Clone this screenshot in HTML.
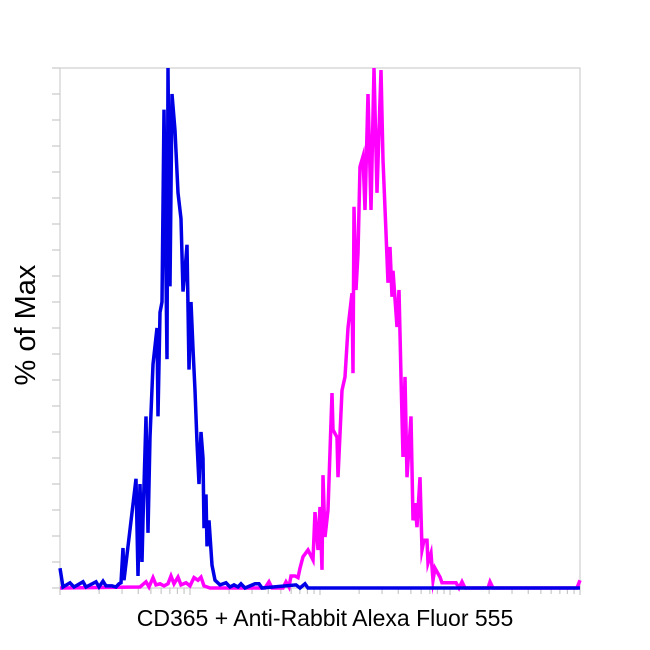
<!DOCTYPE html>
<html><head><meta charset="utf-8"><style>
html,body{margin:0;padding:0;background:#fff;}
svg{display:block;font-family:"Liberation Sans",Arial,sans-serif;}
</style></head><body>
<svg id="chart" width="650" height="650" viewBox="0 0 650 650">
<rect x="0" y="0" width="650" height="650" fill="#fff"/>
<g id="grid"></g>
<g id="series"></g>
<text x="325" y="626" text-anchor="middle" font-size="23" fill="#000">CD365 + Anti-Rabbit Alexa Fluor 555</text>
<text transform="translate(35,325) rotate(-90)" text-anchor="middle" font-size="29" fill="#000">% of Max</text>
</svg>
<script>
// channel (0..520 across plot) and % of max
const blueX = [0,3,10,14,23,26,36,39,43,46,50,52,56,59,61,63,64,76,78,80,82,83,86,88,90,93,97,98,100,102,104,107,108,110,112,115,118,121,123,125,127,129,131,133,135,137,139,141,143,144,146,147,149,152,155,160,166,170,174,178,181,185,195,199,202,236,240,245,248,520];
const blueY = [3.8,0.2,1,0.2,1.2,0.2,1.2,0.2,1.3,0.4,0.4,0.4,0.2,0.8,1,7.7,1.5,21,2.3,20,5,13,33,10.6,29,43,50,33,53,55,92,44,100,58,95,88,76,71,57,61,66,42,55,46,38,28,20,30,25,11.5,18,8,13,4.4,1.5,0.6,1,0.2,0.6,0.2,0.8,0,0.8,0.8,0,0.6,0,0.8,0,0];
const magX = [0,80,86,89,93,96,100,104,108,111,114,118,121,126,130,134,138,141,144,150,205,209,212,223,226,229,231,235,238,240,243,248,253,255,258,260,262,263,265,268,272,273,277,278,282,285,288,292,293,294,296,298,300,303,305,308,311,314,317,321,323,326,328,330,332,333,337,339,341,343,345,347,351,353,355,357,360,362,364,367,368,371,373,375,380,382,396,399,402,405,428,430,433,517,520];
const magY = [0,0.2,1.2,0.2,2,0.6,0.8,0.4,0.8,2.3,0.8,2.1,0.6,1,0.4,2,1.5,2.1,0.4,0,0,1.2,0,0,1.2,0.2,2.3,2.3,2,3.8,6,7.3,5.4,14.6,7.3,15.6,3.5,21.7,9.8,15,37.5,30.4,29,21.3,38,40.6,50,56.7,41.3,73.3,57.3,64.4,81,83,72.7,95,72.7,100,76,99.6,82.3,68.3,58.7,65.6,56,61,50.2,57.3,40.6,25.2,40.6,21.3,33,13,16.3,11.7,21.3,7.3,9.2,9.2,4.8,6.7,1.5,3.8,2.1,1,1,0,1.2,0,0,1.2,0,0,1.5];
const decades = [0,1,2,3];
const minorMult = [2,3,4,5,6,7,8,9];
const yTickCount = 20;

const L=60,R=580,T=68,B=588;
const xs = c => L + c*(R-L)/520;
const ys = v => B - v*(B-T)/100;
const NS="http://www.w3.org/2000/svg";
const grid=document.getElementById('grid'), ser=document.getElementById('series');
function mk(tag,attrs,parent){const e=document.createElementNS(NS,tag);for(const k in attrs)e.setAttribute(k,attrs[k]);parent.appendChild(e);return e;}

const frame = mk('rect',{x:L,y:T,width:R-L,height:B-T,fill:'none',stroke:'#cfcfcf','stroke-width':1.2},grid);


for(let i=0;i<=yTickCount;i++){
  const y=T+i*(B-T)/yTickCount;
  const t=mk('line',{x1:52,x2:L,y1:y,y2:y,stroke:'#c8c8c8','stroke-width':1.2},grid);
  
  
}
const dec=(R-L)/4;
decades.forEach(d=>{
  const x0=L+d*dec;
  const t=mk('line',{x1:x0,x2:x0,y1:B,y2:B+7,stroke:'#c8c8c8','stroke-width':1.2},grid);
  
  
  minorMult.forEach(m=>{
    const x=x0+Math.log10(m)*dec;
    const u=mk('line',{x1:x,x2:x,y1:B,y2:B+6,stroke:'#c8c8c8','stroke-width':1.2},grid);
    
    
  });
});
const tEnd=mk('line',{x1:R,x2:R,y1:B,y2:B+7,stroke:'#c8c8c8','stroke-width':1.2},grid);



function path(X,Y,color,name){
  const d=X.map((c,i)=>(i?'L':'M')+xs(c).toFixed(1)+','+ys(Y[i]).toFixed(1)).join('');
  const p=mk('path',{d:d,fill:'none',stroke:color,'stroke-width':3.5,'stroke-linejoin':'miter','stroke-miterlimit':10},ser);
  
  
}
path(magX,magY,'#ff00ff','magenta-histogram');
path(blueX,blueY,'#0000e6','blue-histogram');
</script>
</body></html>
